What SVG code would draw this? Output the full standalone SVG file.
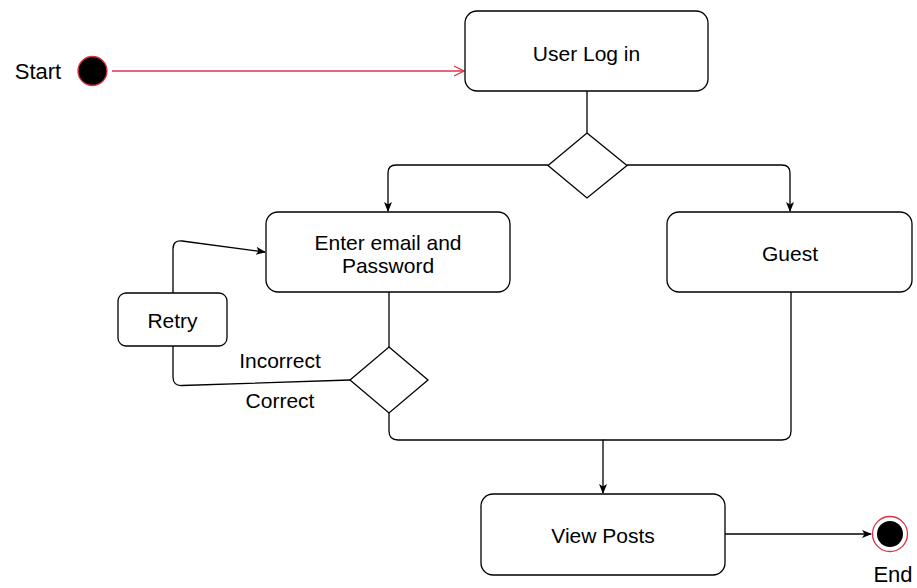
<svg xmlns="http://www.w3.org/2000/svg" width="917" height="588" viewBox="0 0 917 588">
<defs>
<style>
.box{fill:#fff;stroke:#000;stroke-width:1.3}
.t{font-family:"Liberation Sans",Arial,sans-serif;font-size:21px;fill:#000;text-anchor:middle}
.c{fill:none;stroke:#000;stroke-width:1.3}
</style>
<marker id="arr" viewBox="0 0 10 10" refX="9" refY="5" markerWidth="10" markerHeight="10" markerUnits="userSpaceOnUse" orient="auto">
<path d="M0,1 L10,5 L0,9 L2.5,5 Z" fill="#000"/>
</marker>
<marker id="open" viewBox="0 0 12 12" refX="11" refY="6" markerWidth="12" markerHeight="12" markerUnits="userSpaceOnUse" orient="auto">
<path d="M1,1 L11,6 L1,11" fill="none" stroke="#d8344a" stroke-width="1.3"/>
</marker>
</defs>
<rect width="917" height="588" fill="#fff"/>
<g id="connectors">
<path d="M112,71 L464,71" fill="none" stroke="#d8344a" stroke-width="1.3" marker-end="url(#open)"/>
<path class="c" d="M587,91 L587,133"/>
<path class="c" d="M548,165 L396,165 Q388,165 388,173 L388,211" marker-end="url(#arr)"/>
<path class="c" d="M627,165 L782,165 Q790,165 790,173 L790,211" marker-end="url(#arr)"/>
<path class="c" d="M389,292 L389,347"/>
<path class="c" d="M350,380 L182,385.5 Q173,386 173,377 L173,346"/>
<path class="c" d="M173,293 L173,249 Q173,240 182,241 L265,252" marker-end="url(#arr)"/>
<path class="c" d="M389,413 L389,431 Q389,440 398,440 L603,440 L603,493" marker-end="url(#arr)"/>
<path class="c" d="M791,292 L791,431 Q791,440 782,440 L603,440"/>
<path class="c" d="M725,534 L871,534" marker-end="url(#arr)"/>
</g>
<g id="start">
<circle cx="92.5" cy="71" r="14.5" fill="#000" stroke="#d8344a" stroke-width="1.3"/>
<text x="38" y="79" class="t" style="font-size:22px">Start</text>
</g>
<g id="user-log-in">
<rect class="box" x="465" y="11" width="243" height="80" rx="12"/>
<text class="t" x="586.5" y="61">User Log in</text>
</g>
<g id="decision1">
<polygon class="box" points="587,133 627,165.5 587,198 548,165.5"/>
</g>
<g id="enter-email">
<rect class="box" x="266" y="212" width="244" height="80" rx="12"/>
<text class="t" x="388" y="250">Enter email and</text>
<text class="t" x="388" y="273">Password</text>
</g>
<g id="guest">
<rect class="box" x="667" y="212" width="245" height="80" rx="12"/>
<text class="t" x="790" y="261">Guest</text>
</g>
<g id="retry">
<rect class="box" x="118" y="293" width="109" height="53" rx="8"/>
<text class="t" x="172.5" y="328">Retry</text>
</g>
<g id="decision2">
<polygon class="box" points="389,347 428,380 389,413 350,380"/>
<text class="t" x="280" y="368">Incorrect</text>
<text class="t" x="280" y="408">Correct</text>
</g>
<g id="view-posts">
<rect class="box" x="481" y="494" width="244" height="81" rx="12"/>
<text class="t" x="603" y="543">View Posts</text>
</g>
<g id="end">
<circle cx="890" cy="534" r="17.5" fill="#fff" stroke="#d8344a" stroke-width="1.3"/>
<circle cx="890" cy="534" r="13" fill="#000"/>
<text class="t" x="893" y="582" style="font-size:22px">End</text>
</g>
</svg>
